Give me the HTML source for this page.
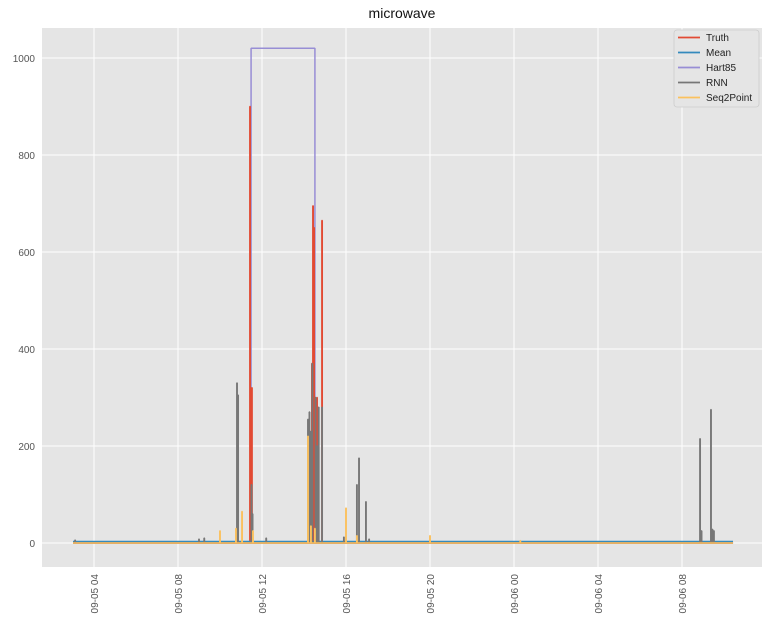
<!DOCTYPE html>
<html><head><meta charset="utf-8"><style>
html,body{margin:0;padding:0;background:#fff;}
svg{display:block;font-family:"Liberation Sans","DejaVu Sans",sans-serif;}
</style></head><body>
<svg id="chart" width="772" height="627" viewBox="0 0 772 627" xmlns="http://www.w3.org/2000/svg"></svg>
<script>
// ---- data (time in hours since 09-05 00:00) ----
const yTickValues = [0, 200, 400, 600, 800, 1000];
const xTickHours = [4, 8, 12, 16, 20, 24, 28, 32];
const xTickLabels = ["09-05 04","09-05 08","09-05 12","09-05 16","09-05 20","09-06 00","09-06 04","09-06 08"];
const tStart = 3.0, tEnd = 34.43;
const truthTimes  = [11.43, 11.52, 14.38, 14.43, 14.48, 14.62, 14.86];
const truthValues = [900, 320, 370, 695, 650, 300, 665];
const meanValue = 3;
const hartTimes  = [3.0, 11.48, 14.52, 34.43];
const hartValues = [0, 1020, 0, 0];
const rnnTimes  = [3.1, 9.0, 9.25, 10.81, 10.86, 11.5, 11.55, 12.2, 14.19, 14.26, 14.33, 14.4, 14.55, 14.62, 14.7, 14.86, 15.9, 16.52, 16.62, 16.95, 17.1, 32.86, 32.93, 33.38, 33.45, 33.52];
const rnnValues = [6, 8, 10, 330, 305, 120, 60, 10, 255, 270, 230, 370, 300, 200, 280, 280, 12, 120, 175, 85, 8, 215, 25, 275, 28, 25];
const s2pTimes  = [10.0, 10.76, 11.05, 11.57, 14.19, 14.33, 14.52, 16.0, 16.52, 20.0, 24.3];
const s2pValues = [25, 30, 65, 25, 220, 35, 30, 72, 15, 15, 5];

// ---- axes ----
const L=42, R=762, T=28, B=567;
const xS = h => 10 + 21*h;
const yS = v => 543 - v*0.485;
const NS="http://www.w3.org/2000/svg";
const svg=document.getElementById('chart');
function el(tag, attrs, parent){const e=document.createElementNS(NS,tag);for(const k in attrs)e.setAttribute(k,attrs[k]);(parent||svg).appendChild(e);return e;}

const bg=el('rect',{x:L,y:T,width:R-L,height:B-T,fill:'#e5e5e5'});


const grid=el('g',{});


yTickValues.forEach(v=>{
  el('line',{x1:L,x2:R,y1:yS(v),y2:yS(v),stroke:'#fff','stroke-width':1},grid);
  const t=el('text',{x:L-7,y:yS(v)+4,'text-anchor':'end','font-size':10,fill:'#555'});
  t.textContent=v;
  
  
});
xTickHours.forEach((h,i)=>{
  el('line',{x1:xS(h),x2:xS(h),y1:T,y2:B,stroke:'#fff','stroke-width':1},grid);
  const t=el('text',{x:0,y:0,'text-anchor':'end','font-size':10,fill:'#555',transform:`translate(${xS(h)+4},${B+7}) rotate(-90)`});
  t.textContent=xTickLabels[i];
  
  
});

function spikePath(times, values){
  let d=`M${xS(tStart)},${yS(0)}`;
  times.forEach((t,i)=>{
    const x=xS(t);
    d+=` L${x-0.2},${yS(0)} L${x-0.2},${yS(values[i])} L${x+0.2},${yS(values[i])} L${x+0.2},${yS(0)}`;
  });
  d+=` L${xS(tEnd)},${yS(0)}`;
  return d;
}
// Hart85 (step)
let hd='';
hartTimes.forEach((t,i)=>{
  if(i===0) hd+=`M${xS(t)},${yS(hartValues[i])}`;
  else hd+=` L${xS(t)},${yS(hartValues[i-1])} L${xS(t)},${yS(hartValues[i])}`;
});
const series=[
  ['hart85-line',hd,'#988ED5'],
  ['truth-line',spikePath(truthTimes,truthValues),'#E24A33'],
  ['mean-line',`M${xS(tStart)},${yS(meanValue)} L${xS(tEnd)},${yS(meanValue)}`,'#348ABD'],
  ['rnn-line',spikePath(rnnTimes,rnnValues),'#777777'],
  ['seq2point-line',spikePath(s2pTimes,s2pValues),'#FBC15E'],
];
series.forEach(s=>{
  const p=el('path',{d:s[1],fill:'none',stroke:s[2],'stroke-width':1.5,'stroke-linejoin':'bevel'});
  
  
});

const title=el('text',{x:(L+R)/2,y:18,'text-anchor':'middle','font-size':14,fill:'#111'});
title.textContent='microwave';



// legend
const lg=el('g',{});


el('rect',{x:674,y:30,width:85,height:77,rx:3,fill:'#e5e5e5',stroke:'#cccccc','stroke-width':0.8},lg);
const names=['Truth','Mean','Hart85','RNN','Seq2Point'];
const cols=['#E24A33','#348ABD','#988ED5','#777777','#FBC15E'];
names.forEach((n,i)=>{
  const y=37.5+i*15;
  el('line',{x1:678,x2:700,y1:y,y2:y,stroke:cols[i],'stroke-width':1.8},lg);
  const t=el('text',{x:706,y:y+3.5,'font-size':10,fill:'#222'},lg);
  t.textContent=n;
  
  
});
</script>
</body></html>
